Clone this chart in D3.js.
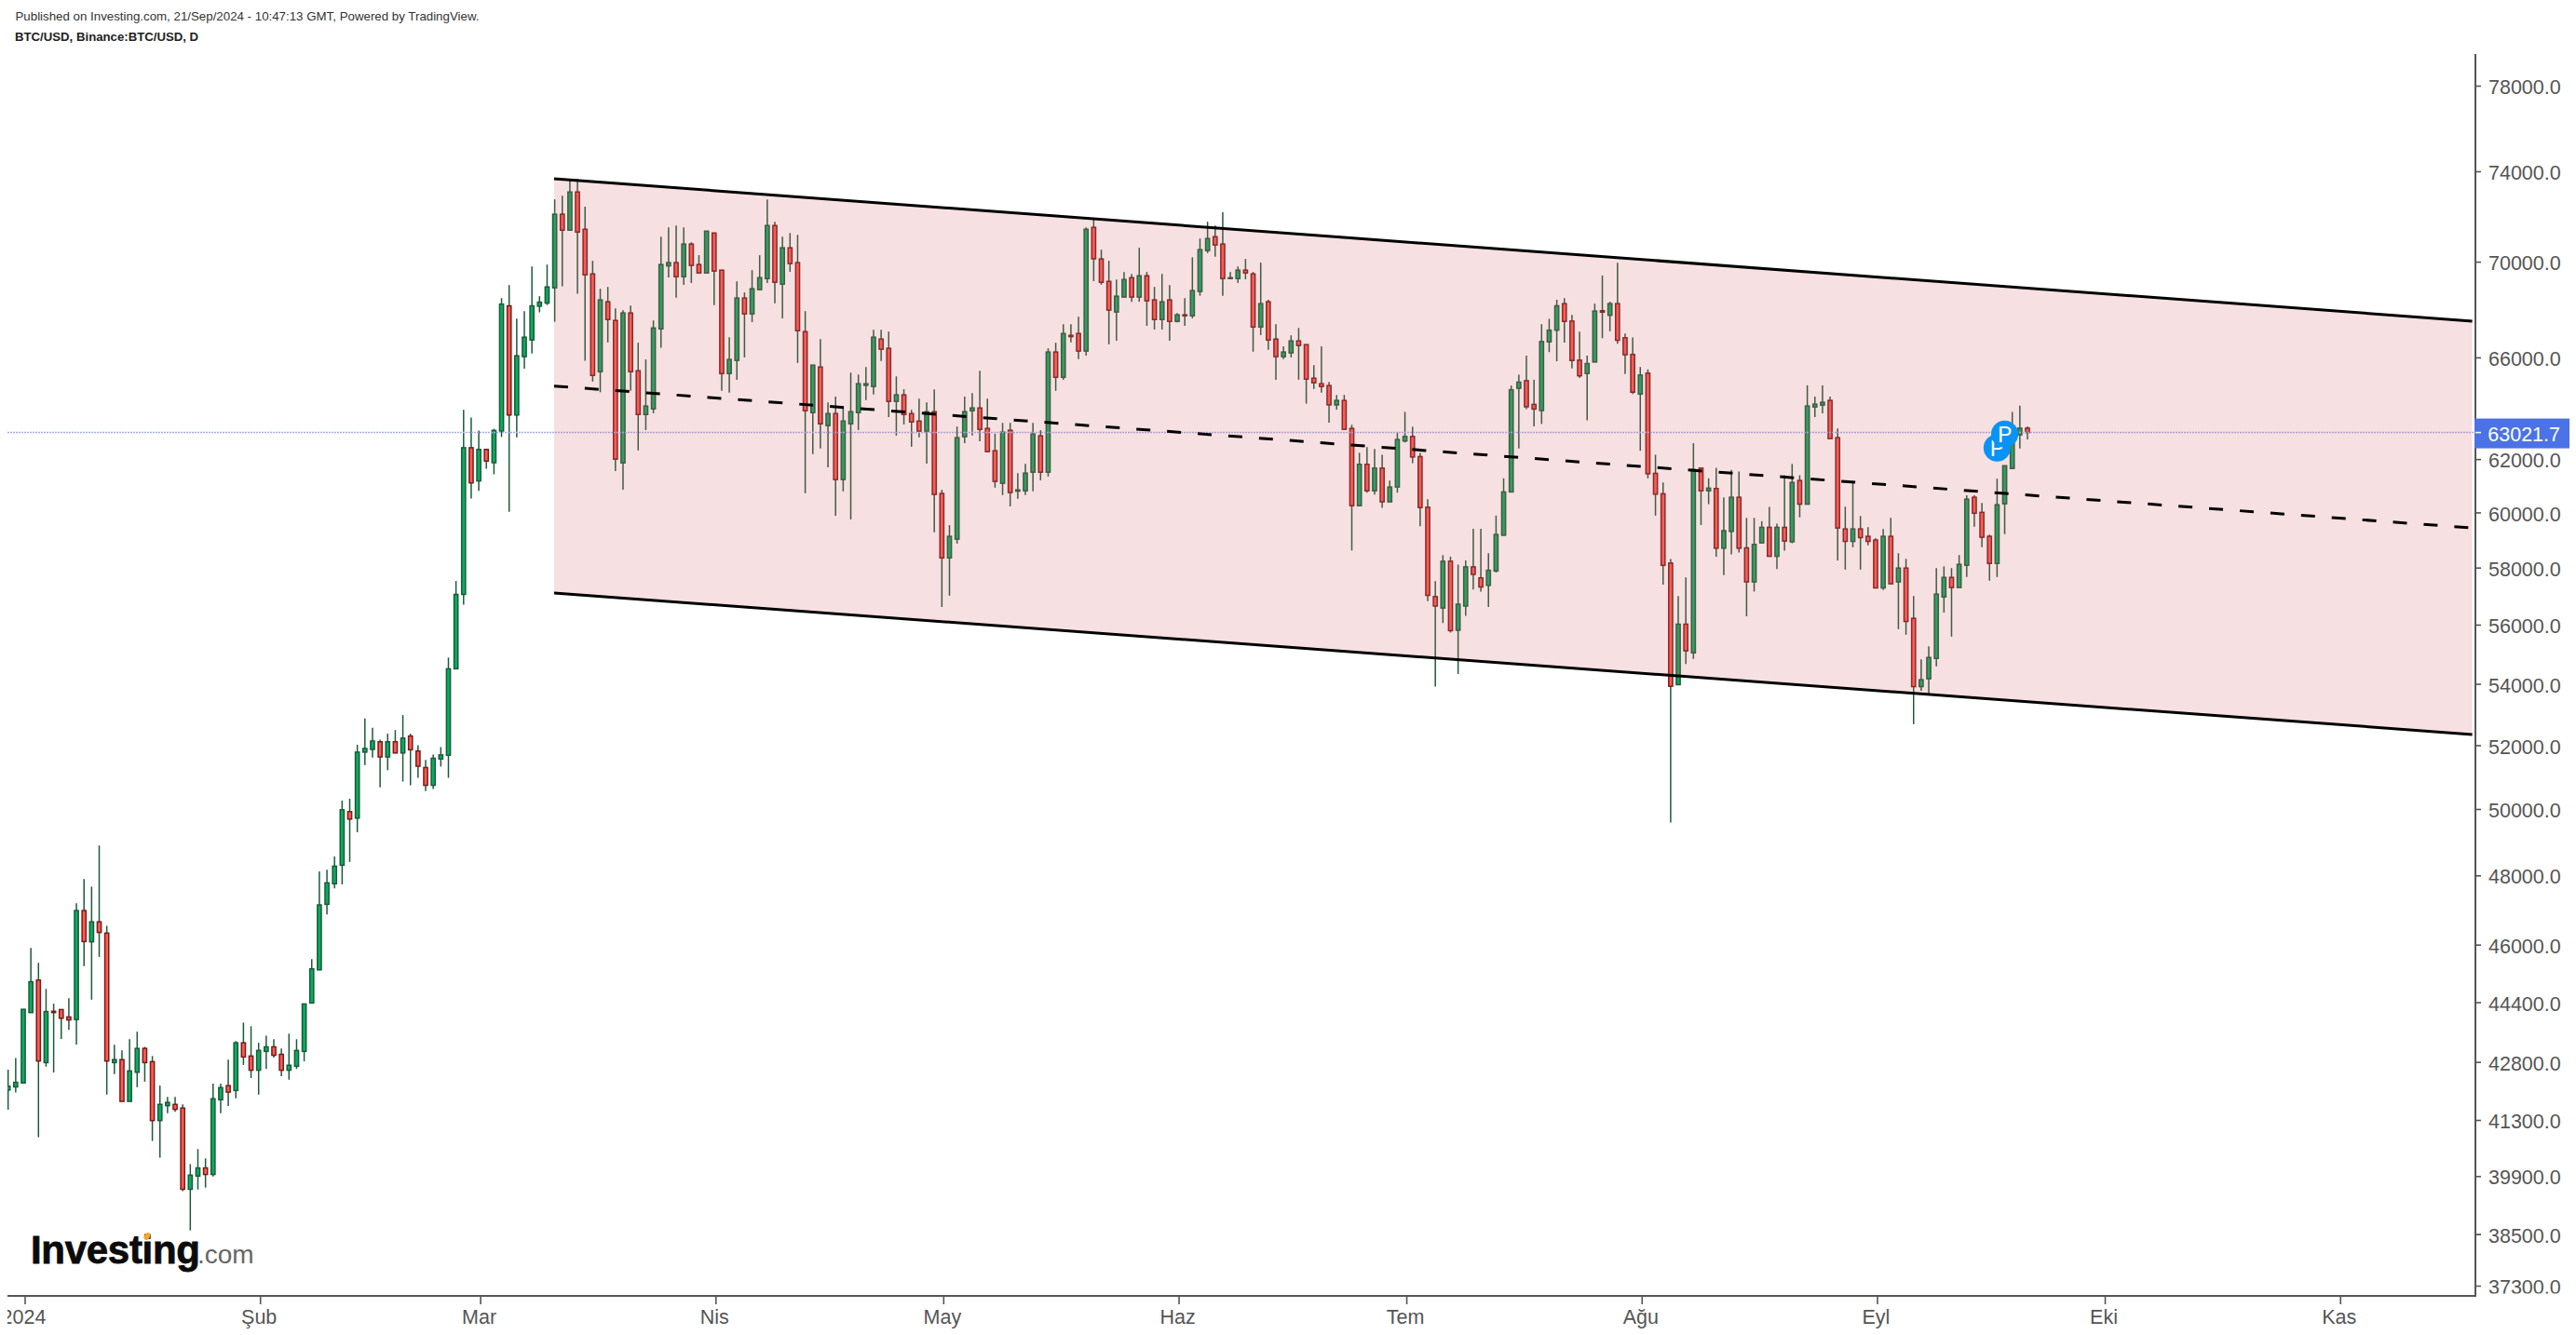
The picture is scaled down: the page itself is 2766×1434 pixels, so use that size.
<!DOCTYPE html>
<html>
<head>
<meta charset="utf-8">
<script src="https://cdn.jsdelivr.net/npm/d3@7"></script>
<style>
  body { margin: 0; background: #fff; }
  svg { display: block; font-family: "Liberation Sans", Arial, sans-serif; }
  .axis text { font-size: 21.5px; fill: #555; }
  .axis line { stroke: #555; stroke-width: 1.6; }
</style>
</head>
<body>
<div id="chart"></div>
<script>
// daily candles, one per day starting from firstDay
var firstDay = "2023-12-30";

var opens = [
  42068,42147,42250,44118,45009,42782,44154,44200,44000,43929,
  46974,46080,46650,46328,42782,42861,41774,42529,43157,42807,
  41284,41664,41697,41604,39577,39900,40100,39939,41815,42181,
  42054,43306,42955,42582,43078,43199,43000,42582,42686,43078,
  44378,45292,47153,47753,48302,49919,49720,51779,51866,52110,
  51626,52110,51752,52294,51813,51292,50734,51562,51679,54501,
  57051,62435,61172,62370,61862,63076,68125,63703,66029,66711,
  68110,68240,68883,72072,71368,73065,71408,69476,65421,68296,
  67515,61855,67828,65459,63722,63944,67167,69820,69960,69356,
  70762,69877,69516,71244,69637,65346,65877,68453,67789,68805,
  69275,71573,69040,70601,69960,67052,63796,65611,63288,63759,
  61224,63359,63796,64877,64829,66749,66370,64239,64497,63759,
  63467,63073,63833,60702,58346,59022,62858,63870,63981,63180,
  62320,61084,63109,60789,60803,61503,62894,61503,66219,65198,
  66901,66976,66257,71492,70118,69157,67867,68492,69315,68492,
  69396,68375,67554,68375,67476,67750,67711,68727,70480,71083,
  70762,69275,69275,69637,69476,67243,68296,66749,66029,66181,
  66673,66521,65162,64940,64866,64101,64277,63179,60248,61801,
  60803,61657,60391,60945,62694,62869,62095,60192,56975,56575,
  58226,55808,56644,58026,57634,57368,57878,59164,60761,64759,
  65062,64119,63878,66631,67113,68218,67491,65888,65350,65812,
  67922,67731,68218,66802,66120,64528,65364,61458,60691,58161,
  53971,56016,55038,61657,60803,60889,58694,59304,60562,58707,
  57490,58886,59453,58403,59453,58927,61190,60304,64018,64092,
  64277,62822,59395,58941,59395,59125,58990,57279,59125,57490,
  57983,56219,53906,54167,54850,56962,57650,57292,58082,60562,
  60003,59125,58148,60318,61643,62930,63191
];

var highs = [
  42597,42905,44207,45903,45489,44764,44360,44207,44511,47183,
  47892,47670,48890,46536,43254,43103,43402,43602,43199,42955,
  42181,41892,41892,41697,40195,40567,40335,42233,42233,42861,
  43350,43848,43750,43306,43498,43402,43157,43550,43402,44353,
  45591,48116,48166,48559,50261,50318,52013,52859,52557,52176,
  52369,52487,52973,52369,52001,51533,51700,51940,54879,57523,
  63903,63601,63101,62370,63166,68449,69001,67592,67906,69798,
  68531,69877,72734,72900,73566,73650,72403,70038,68844,68922,
  68016,67945,68140,66597,65915,67515,71083,71492,71573,71492,
  70842,70280,71326,71244,69637,66825,69157,68688,69637,70280,
  72734,71740,71083,71244,71164,67906,65687,66749,64202,64424,
  63981,65383,65307,65611,67129,67129,67052,65235,64719,63907,
  64350,64202,64719,60840,59531,63252,64424,64571,65459,64350,
  62976,63395,63395,61468,61819,63395,63109,66370,66597,67358,
  67358,67671,71492,71835,70520,70038,69235,69557,69476,70601,
  69557,68922,69476,69001,67828,68453,70190,71003,71740,71573,
  72155,69557,69797,70118,69557,69960,68375,67358,66446,66901,
  67205,66521,65687,66446,65014,64497,64497,63323,62241,62460,
  62388,62166,61186,63044,63826,63248,62238,60489,57516,58444,
  58390,58105,58253,59399,59399,58515,59882,61273,64866,65302,
  66074,65091,67362,67585,68382,68449,67746,67052,66074,68218,
  69408,68296,69951,66973,66817,65611,65516,62166,61116,58309,
  56992,57650,62609,61671,61273,61671,60562,61587,61528,59798,
  59798,59676,60206,59591,61388,61814,61388,64877,64424,64877,
  64424,63180,60213,61119,59869,59463,59058,59395,59801,58515,
  58312,56995,54820,55260,57983,58041,57983,58447,60632,60632,
  60352,59191,61259,61748,63825,64066,63262
];

var lows = [
  41563,42003,42250,44118,40863,42676,42522,43409,43654,43261,
  45394,44468,45654,41949,42478,41774,41774,42140,42284,40770,
  40354,41469,41510,39529,38588,39570,39618,39890,41469,41655,
  41851,42720,42378,41949,42616,42913,42428,42334,42616,42817,
  44378,45292,46864,47621,47734,48399,49292,51369,51603,50672,
  51207,51752,50851,50734,50966,50557,50619,51322,50966,54501,
  56689,60513,60799,61632,61423,62847,60024,62833,65546,66154,
  67851,68160,67460,68946,71368,68633,65861,65025,64600,66608,
  61549,60848,64656,62331,63119,63770,66390,69327,68465,69012,
  69091,69516,69516,68153,64656,64583,65099,66000,67448,68805,
  69091,68235,67605,69565,65774,60712,62188,62403,61688,59879,
  60782,59744,63119,64288,64508,65850,63622,62904,63334,62472,
  62833,61830,59270,56612,57005,58863,62608,62904,62679,62259,
  60921,60642,60223,60503,60642,60782,61200,61339,64656,65099,
  66608,65926,66076,69169,69012,66532,66684,68492,68295,68295,
  67292,67140,67140,66684,67440,67292,67605,68551,70371,70211,
  68551,69275,69091,69247,66230,66912,66306,65099,65926,66000,
  65099,64150,64730,64583,63406,63918,63144,58613,60248,60733,
  60660,60166,60391,60733,62637,61844,59497,56814,53909,56054,
  55728,54327,56302,57219,57150,56615,57825,59164,60761,62403,
  63937,63262,63352,66215,65843,66600,65550,65169,63499,65812,
  66784,67067,66554,65333,64528,62317,61273,59882,57394,49585,
  53971,54658,54836,59537,60304,58390,57730,58474,58542,56289,
  57150,58886,58403,57944,58610,58873,59821,60304,63623,63770,
  62786,58256,57927,58728,57927,58796,57279,57203,57424,55844,
  55654,52677,53772,53678,54580,56420,55590,57292,57664,59473,
  58728,57532,57664,59205,61643,62403,62751
];

var closes = [
  42164,42267,44207,44963,42824,44146,44118,43965,43919,46974,
  46087,46650,46346,42824,42861,41774,42565,43157,42782,41284,
  41697,41748,41570,39577,39923,40100,39939,41842,42130,42013,
  43306,42930,42582,43103,43199,42975,42582,42713,43103,44353,
  45321,47137,47781,48274,49976,49691,51779,51896,52134,51626,
  52110,51752,52227,51855,51333,50734,51585,51691,54501,57051,
  62435,61098,62370,61923,63101,68198,63703,66066,66825,68125,
  68280,68922,72072,71368,73065,71285,69436,65272,68375,67554,
  61998,67828,65421,63722,64055,67205,69877,69960,69356,70762,
  69838,69516,71326,69597,65346,65915,68453,67789,68844,69315,
  71573,69118,70601,69917,67091,63870,65687,63359,63759,61224,
  63467,63833,64940,64940,66825,66332,64239,64497,63722,63431,
  63073,63833,60667,58346,59125,62822,63833,63981,63144,62284,
  61154,63037,60737,60837,61468,62965,61503,66219,65198,66976,
  66847,66257,71408,70121,69118,67945,68531,69235,68492,69396,
  68335,67554,68296,67476,67750,67711,68766,70520,71003,70722,
  69275,69315,69637,69516,67243,68217,66711,66029,66219,66673,
  66483,65125,64977,64829,64101,64277,63144,60248,61801,60803,
  61657,60391,60945,62751,62869,62080,60178,57018,56644,58226,
  55795,56709,58026,57756,57311,57904,59191,60761,64700,65003,
  64026,63937,66646,67113,68127,67476,65873,65257,65751,67906,
  67860,68218,66696,66106,64604,65287,61444,60677,58079,53919,
  56016,55104,61601,60803,60903,58694,59331,60562,58694,57490,
  58832,59453,58403,59453,58954,61116,60304,64055,64129,64202,
  62786,59429,58941,59395,59078,58941,57279,59125,57424,57983,
  56110,53906,54136,54882,57061,57650,57292,58115,60492,59970,
  59092,58148,60283,61748,62950,63191,63021.7
];

// channel drawn on the chart
var channelDates = ["2024-03-10T22:00Z", "2024-11-18T14:00Z"];
var channelTop = [73660, 67487];
var channelMid = [64849, 59430];
var channelBottom = [57098, 52345];

var lastPrice = 63021.7;

// the two "P" markers
var markerDates = ["2024-09-17", "2024-09-18"];
var markerPrices = [62430, 62960];

var yTicks = [78000, 74000, 70000, 66000, 62000, 60000, 58000, 56000, 54000, 52000,
              50000, 48000, 46000, 44400, 42800, 41300, 39900, 38500, 37300];

var monthDates = ["2024-01-01", "2024-02-01", "2024-03-01", "2024-04-01", "2024-05-01", "2024-06-01",
                  "2024-07-01", "2024-08-01", "2024-09-01", "2024-10-01", "2024-11-01"];
var monthLabels = ["2024", "Şub", "Mar", "Nis", "May", "Haz", "Tem", "Ağu", "Eyl", "Eki", "Kas"];

var width = 2766;
var height = 1434;
var paneLeft = 8;
var paneRight = 2658;
var paneTop = 58;
var paneBottom = 1392;

var start = new Date(firstDay + "T00:00Z");
var candles = opens.map(function(o, i) {
  return {date: d3.utcDay.offset(start, i), open: o, high: highs[i], low: lows[i], close: closes[i]};
});

var x = d3.scaleUtc()
  .domain([start, candles[candles.length - 1].date])
  .range([8.7, 2177]);

var y = d3.scaleLog()
  .domain([37300, 78000])
  .range([1381, 92]);

var svg = d3.select("#chart").append("svg")
  .attr("width", width)
  .attr("height", height);

var defs = svg.append("defs");
defs.append("clipPath").attr("id", "pane")
  .append("rect")
  .attr("x", paneLeft).attr("y", paneTop)
  .attr("width", paneRight - paneLeft).attr("height", paneBottom - paneTop);
defs.append("clipPath").attr("id", "xlabels")
  .append("rect")
  .attr("x", paneLeft).attr("y", 0)
  .attr("width", width).attr("height", height - paneBottom);
defs.append("clipPath").attr("id", "ylabels")
  .append("rect")
  .attr("x", 0).attr("y", 0)
  .attr("width", width - paneRight).attr("height", 1389.5);

// header
svg.append("text")
  .attr("x", 16.5).attr("y", 21.5)
  .attr("font-size", 13.3).attr("fill", "#333")
  .text("Published on Investing.com, 21/Sep/2024 - 10:47:13 GMT, Powered by TradingView.");
svg.append("text")
  .attr("x", 16).attr("y", 44)
  .attr("font-size", 13.2).attr("font-weight", "bold").attr("fill", "#222")
  .text("BTC/USD, Binance:BTC/USD, D");

var pane = svg.append("g").attr("clip-path", "url(#pane)");

// candles
var candle = pane.append("g").selectAll("g")
  .data(candles)
  .enter()
  .append("g");

candle.append("line")
  .attr("x1", d => x(d.date))
  .attr("x2", d => x(d.date))
  .attr("y1", d => y(d.high))
  .attr("y2", d => y(d.low))
  .attr("stroke", "#1c5a3a")
  .attr("stroke-width", 1.5);

candle.append("rect")
  .attr("x", d => x(d.date) - 2.1)
  .attr("width", 4.2)
  .attr("y", d => y(Math.max(d.open, d.close)))
  .attr("height", d => Math.abs(y(d.open) - y(d.close)))
  .attr("fill", d => d.close >= d.open ? "#08ad5f" : "#ff5c50")
  .attr("stroke", d => d.close >= d.open ? "#1c5a3a" : "#761c1c")
  .attr("stroke-width", 1.5);

// last price line
pane.append("line")
  .attr("x1", paneLeft).attr("x2", paneRight)
  .attr("y1", y(lastPrice)).attr("y2", y(lastPrice))
  .attr("stroke", "#a3ade9")
  .attr("stroke-width", 1.5)
  .attr("stroke-dasharray", "2 1");

// channel fill goes over the candles
var cx = channelDates.map(d => new Date(d));
var line = d3.line().x(d => x(d[0])).y(d => y(d[1]));

pane.append("path")
  .attr("d", line([[cx[0], channelTop[0]], [cx[1], channelTop[1]], [cx[1], channelBottom[1]], [cx[0], channelBottom[0]]]) + "Z")
  .attr("fill", "rgb(215,100,105)")
  .attr("fill-opacity", 0.2);

[channelTop, channelBottom].forEach(function(v) {
  pane.append("path")
    .attr("d", line(cx.map((d, i) => [d, v[i]])))
    .attr("fill", "none")
    .attr("stroke", "#000")
    .attr("stroke-width", 3);
});

pane.append("path")
  .attr("d", line(cx.map((d, i) => [d, channelMid[i]])))
  .attr("fill", "none")
  .attr("stroke", "#000")
  .attr("stroke-width", 3)
  .attr("stroke-dasharray", "15 18");

// P markers
markerDates.forEach(function(d, i) {
  var mx = x(new Date(d + "T00:00Z"));
  var my = y(markerPrices[i]);
  pane.append("circle")
    .attr("cx", mx).attr("cy", my).attr("r", 14.6)
    .attr("fill", "#0a93f3");
  pane.append("text")
    .attr("x", mx).attr("y", my + 8.5)
    .attr("text-anchor", "middle")
    .attr("font-family", "Roboto")
    .attr("font-size", 24)
    .attr("fill", "#fff")
    .text("P");
});

// x axis, tick marks sit slightly right of the candle of that date
var xAxis = d3.axisBottom(x)
  .tickValues(monthDates.map(d => new Date(d + "T00:00Z")))
  .tickFormat((d, i) => monthLabels[i])
  .tickSize(9)
  .tickPadding(4);

var xg = svg.append("g")
  .attr("class", "axis")
  .attr("transform", "translate(0," + paneBottom + ")")
  .attr("clip-path", "url(#xlabels)")
  .call(xAxis);
xg.select(".domain").remove();
xg.selectAll("line").attr("x1", 1.5).attr("x2", 1.5);
xg.selectAll("text").attr("dy", "0.8em").attr("font-family", "Liberation Sans");

// y axis
var yAxis = d3.axisRight(y)
  .tickValues(yTicks)
  .tickFormat(d3.format(".1f"))
  .tickSize(6)
  .tickPadding(8);

var yg = svg.append("g")
  .attr("class", "axis")
  .attr("transform", "translate(" + paneRight + ",0)")
  .attr("clip-path", "url(#ylabels)")
  .call(yAxis);
yg.select(".domain").remove();
yg.selectAll("text").attr("dy", "0.4em").attr("font-family", "Liberation Sans");

// frame
svg.append("line")
  .attr("x1", paneRight).attr("x2", paneRight)
  .attr("y1", paneTop).attr("y2", paneBottom + 1)
  .attr("stroke", "#555").attr("stroke-width", 2);
svg.append("line")
  .attr("x1", paneLeft).attr("x2", paneRight)
  .attr("y1", paneBottom).attr("y2", paneBottom)
  .attr("stroke", "#555").attr("stroke-width", 2);

// last price tag
var ty = y(lastPrice);
svg.append("rect")
  .attr("x", paneRight - 1).attr("y", ty - 15)
  .attr("width", 102).attr("height", 32)
  .attr("fill", "#4b72e6");
svg.append("line")
  .attr("x1", paneRight).attr("x2", paneRight + 6)
  .attr("y1", ty).attr("y2", ty)
  .attr("stroke", "#fff").attr("stroke-width", 1.6);
svg.append("text")
  .attr("x", paneRight + 91).attr("y", ty + 9)
  .attr("text-anchor", "end")
  .attr("font-size", 21.5)
  .attr("fill", "#fff")
  .text(d3.format(".1f")(lastPrice));

// logo
var logo = svg.append("g");
logo.append("text")
  .attr("x", 33).attr("y", 1357)
  .attr("font-size", 42).attr("font-weight", "bold").attr("letter-spacing", -0.3)
  .attr("fill", "#0b0b0b")
  .attr("stroke", "#0b0b0b").attr("stroke-width", 0.8)
  .text("Investing");
logo.append("text")
  .attr("x", 212).attr("y", 1357)
  .attr("font-size", 28).attr("fill", "#666")
  .text(".com");
logo.append("ellipse")
  .attr("cx", 158).attr("cy", 1328)
  .attr("rx", 3).attr("ry", 4.2)
  .attr("transform", "rotate(30 158 1328)")
  .attr("fill", "#f5a623");
</script>
</body>
</html>
